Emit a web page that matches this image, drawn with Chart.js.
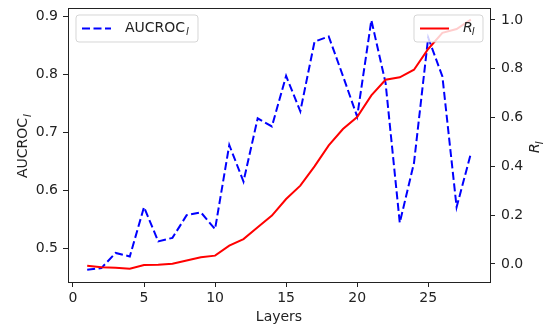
<!DOCTYPE html>
<html>
<head>
<meta charset="utf-8">
<script src="https://cdn.jsdelivr.net/npm/chart.js@4.4.1/dist/chart.umd.min.js"></script>
<style>
  html, body { margin: 0; padding: 0; background: #fff; }
  #wrap { width: 547px; height: 325px; }
</style>
</head>
<body>
<div id="wrap"><canvas id="layerChart" width="547" height="325"></canvas></div>
<script>
// values
const layers = [1, 2, 3, 4, 5, 6, 7, 8, 9, 10, 11, 12, 13, 14, 15, 16, 17, 18, 19, 20, 21, 22, 23, 24, 25, 26, 27, 28];
const aucroc = [0.463, 0.466, 0.492, 0.486, 0.571, 0.512, 0.518, 0.557, 0.562, 0.533, 0.678, 0.615, 0.724, 0.710,
                0.797, 0.736, 0.856, 0.865, 0.797, 0.727, 0.893, 0.785, 0.544, 0.647, 0.863, 0.796, 0.571, 0.663];
const rl = [-0.007, -0.014, -0.016, -0.020, -0.004, -0.003, 0.001, 0.014, 0.027, 0.034, 0.075, 0.102, 0.150, 0.198,
            0.266, 0.321, 0.400, 0.486, 0.553, 0.602, 0.691, 0.755, 0.765, 0.796, 0.881, 0.947, 0.963, 1.001];
const xTicks = [0, 5, 10, 15, 20, 25];
const leftTicks = [0.5, 0.6, 0.7, 0.8, 0.9];
const rightTicks = [0.0, 0.2, 0.4, 0.6, 0.8, 1.0];

const FONT = 'DejaVu Sans';
const INK = '#222';

function pts(ys) {
    return layers.map(function (l, i) { return { x: l, y: ys[i] }; });
}

function fixTicks(list) {
    return function (scale) {
        scale.ticks = list.map(function (v) { return { value: v }; });
    };
}

// pin an axis to a fixed size and drop the label overhang padding
function fixSize(prop, size) {
    return function (s) {
        s[prop] = size;
        s.paddingTop = 0;
        s.paddingBottom = 0;
        s.paddingLeft = 0;
        s.paddingRight = 0;
    };
}

// text with an italic subscript "l"
function subText(ctx, x, y, main, mainItalic) {
    ctx.font = (mainItalic ? 'italic ' : '') + '14px ' + FONT;
    ctx.fillText(main, x, y);
    let w = ctx.measureText(main).width + (mainItalic ? -1 : 1);
    ctx.font = 'italic 10px ' + FONT;
    ctx.fillText('l', x + w, y + 4);
    return w + ctx.measureText('l').width;
}

function roundBox(ctx, x, y, w, h, r) {
    ctx.beginPath();
    ctx.moveTo(x + r, y);
    ctx.lineTo(x + w - r, y);
    ctx.quadraticCurveTo(x + w, y, x + w, y + r);
    ctx.lineTo(x + w, y + h - r);
    ctx.quadraticCurveTo(x + w, y + h, x + w - r, y + h);
    ctx.lineTo(x + r, y + h);
    ctx.quadraticCurveTo(x, y + h, x, y + h - r);
    ctx.lineTo(x, y + r);
    ctx.quadraticCurveTo(x, y, x + r, y);
    ctx.closePath();
}

function drawLegend(ctx, box, color, dash, label, italic) {
    roundBox(ctx, box[0], box[1], box[2], box[3], 3);
    ctx.fillStyle = 'rgba(255,255,255,0.8)';
    ctx.fill();
    ctx.strokeStyle = 'rgba(204,204,204,0.8)';
    ctx.lineWidth = 1;
    ctx.stroke();
    let my = box[1] + box[3] / 2;
    ctx.beginPath();
    ctx.setLineDash(dash);
    ctx.strokeStyle = color;
    ctx.lineWidth = 2;
    ctx.moveTo(box[0] + 6, my);
    ctx.lineTo(box[0] + 35, my);
    ctx.stroke();
    ctx.setLineDash([]);
    ctx.fillStyle = INK;
    ctx.textBaseline = 'middle';
    ctx.textAlign = 'left';
    subText(ctx, box[0] + 49, my, label, italic);
}

const decorPlugin = {
    id: 'decor',
    afterDatasetsDraw: function (chart) {
        const ctx = chart.ctx;
        const a = chart.chartArea;
        ctx.save();
        // frame
        ctx.strokeStyle = INK;
        ctx.lineWidth = 1;
        ctx.strokeRect(Math.round(a.left) + 0.5, Math.round(a.top) + 0.5,
                       Math.round(a.right - a.left), Math.round(a.bottom - a.top));
        // legends
        drawLegend(ctx, [76, 15, 122, 27], '#0000ff', [8, 3.5], 'AUCROC', false);
        drawLegend(ctx, [414, 15, 69, 27], '#ff0000', [], 'R', true);

        // axis titles
        ctx.fillStyle = INK;
        ctx.textBaseline = 'alphabetic';
        ctx.font = '14px ' + FONT;
        ctx.textAlign = 'center';
        ctx.fillText('Layers', (a.left + a.right) / 2, 321);

        ctx.textAlign = 'left';
        ctx.save();
        ctx.translate(27, 178);
        ctx.rotate(-Math.PI / 2);
        subText(ctx, 0, 0, 'AUCROC', false);
        ctx.restore();

        ctx.save();
        ctx.translate(539, 153);
        ctx.rotate(-Math.PI / 2);
        subText(ctx, 0, 0, 'R', true);
        ctx.restore();
        ctx.restore();
    }
};

const tickFont = { family: FONT, size: 14 };

new Chart(document.getElementById('layerChart').getContext('2d'), {
    type: 'line',
    data: {
        datasets: [{
            label: 'AUCROC',
            data: pts(aucroc),
            yAxisID: 'y',
            borderColor: '#0000ff',
            borderWidth: 2,
            borderDash: [8, 3.5],
            pointRadius: 0,
            fill: false,
            tension: 0,
            order: 1
        }, {
            label: 'R',
            data: pts(rl),
            yAxisID: 'y1',
            borderColor: '#ff0000',
            borderWidth: 2,
            pointRadius: 0,
            fill: false,
            tension: 0,
            order: 0
        }]
    },
    options: {
        responsive: false,
        animation: false,
        layout: { padding: { top: 8, left: 0, right: 0, bottom: 0 } },
        plugins: {
            legend: { display: false },
            tooltip: { enabled: false },
            title: { display: false }
        },
        scales: {
            x: {
                type: 'linear',
                min: -0.35,
                max: 29.35,
                afterBuildTicks: fixTicks(xTicks),
                afterFit: fixSize('height', 43),
                grid: { drawOnChartArea: false, tickLength: 5, tickColor: INK },
                border: { color: INK },
                ticks: { font: tickFont, color: INK, padding: 3, maxRotation: 0 }
            },
            y: {
                type: 'linear',
                position: 'left',
                min: 0.442,
                max: 0.914,
                afterBuildTicks: fixTicks(leftTicks),
                afterFit: fixSize('width', 68),
                grid: { drawOnChartArea: false, tickLength: 5, tickColor: INK },
                border: { color: INK },
                ticks: { font: tickFont, color: INK, padding: 5,
                         callback: function (v) { return v.toFixed(1); } }
            },
            y1: {
                type: 'linear',
                position: 'right',
                min: -0.074,
                max: 1.049,
                afterBuildTicks: fixTicks(rightTicks),
                afterFit: fixSize('width', 57),
                grid: { drawOnChartArea: false, tickLength: 5, tickColor: INK },
                border: { color: INK },
                ticks: { font: tickFont, color: INK, padding: 6,
                         callback: function (v) { return v.toFixed(1); } }
            }
        }
    },
    plugins: [decorPlugin]
});
</script>
</body>
</html>
